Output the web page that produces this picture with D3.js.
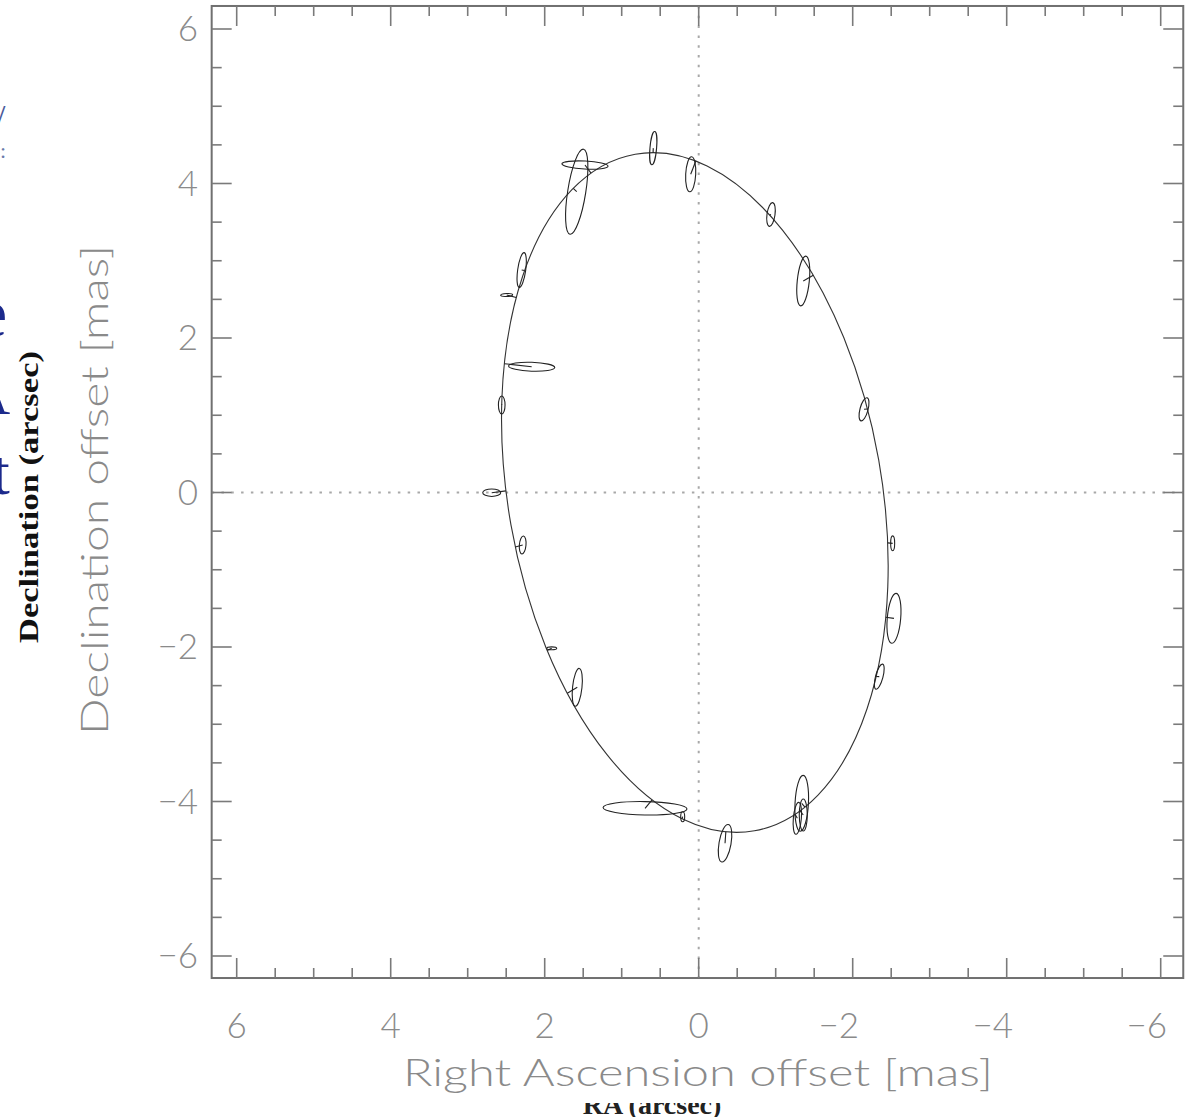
<!DOCTYPE html>
<html><head><meta charset="utf-8">
<script src="https://cdn.jsdelivr.net/npm/d3@7"></script>
<style>
html,body{margin:0;padding:0;background:#fff;}
svg{display:block;}
</style>
</head><body>
<svg id="chart" width="1198" height="1117"></svg>
<script>
// ---------------- data ----------------
const xTicks = [6, 4, 2, 0, -2, -4, -6];
const yTicks = [6, 4, 2, 0, -2, -4, -6];
const xTickLabels = ["6", "4", "2", "0", "\u22122", "\u22124", "\u22126"];
const yTickLabels = ["6", "4", "2", "0", "\u22122", "\u22124", "\u22126"];
const minorStep = 0.5;
const xLimits = [6.325, -6.293];
const yLimits = [6.298, -6.285];

// fitted apparent orbit (mas): centre, semi-axes, position angle of major axis (deg)
const orbitCenter = [0.05, 0.0];
const orbitAxes = [4.447, 2.425];
const orbitAngle = 80;

// observations: RA offset, Dec offset (mas), error ellipse semi-axes (mas), tilt (deg)
const obsRA  = [0.590, 0.104, 1.584, 1.477, -0.939, -1.358, 2.299, 2.494, 2.169, 2.558, 2.688, 2.286,
                1.909, 1.577, -2.147, -2.519, -2.536, -2.345, 0.697, 0.208, -0.342, -1.338, -1.281, -1.358];
const obsDec = [4.458, 4.119, 3.894, 4.239, 3.599, 2.738, 2.880, 2.557, 1.628, 1.133, -0.003, -0.680,
                -2.017, -2.522, 1.077, -0.658, -1.629, -2.384, -4.088, -4.197, -4.541, -4.023, -4.218, -4.175];
const errRA  = [0.043, 0.065, 0.117, 0.300, 0.052, 0.078, 0.052, 0.078, 0.300, 0.043, 0.117, 0.043,
                0.065, 0.061, 0.052, 0.026, 0.087, 0.048, 0.545, 0.026, 0.078, 0.087, 0.052, 0.052];
const errDec = [0.216, 0.227, 0.557, 0.052, 0.155, 0.324, 0.227, 0.019, 0.058, 0.117, 0.048, 0.117,
                0.019, 0.246, 0.155, 0.097, 0.324, 0.168, 0.087, 0.065, 0.246, 0.362, 0.207, 0.207];
const errTilt = [5, 3, 9, 3, 8, 6, 8, -3, 2, 0, 0, 5,
                 0, 6, 15, 0, 5, 15, 1, 0, 10, 3, 5, 0];

const xTitle = "Right Ascension offset [mas]";
const yTitle = "Declination offset [mas]";

// ---------------- drawing ----------------
const svg = d3.select("#chart");
const x = d3.scaleLinear().domain([6, -6]).range([236.7, 1160.7]);
const y = d3.scaleLinear().domain([6, -6]).range([29, 956]);
const kx = Math.abs(x(1) - x(0)), ky = Math.abs(y(1) - y(0));

const L = x(xLimits[0]), R = x(xLimits[1]), T = y(yLimits[0]), B = y(yLimits[1]);

// background slide fragments (behind the plot, cut at the left edge)
const bg = svg.append("g").attr("font-family", "Liberation Serif").attr("fill", "#1c2a8c");
bg.append("text").attr("x", -23).attr("y", 336).attr("font-size", 68).text("e");
bg.append("text").attr("x", -36).attr("y", 414).attr("font-size", 64).text("A");
bg.append("text").attr("x", -8).attr("y", 494).attr("font-size", 64).text("t");
bg.append("text").attr("x", -4).attr("y", 128).attr("font-size", 34).attr("fill", "#4a5a9a").text("/");
bg.append("text").attr("x", 0).attr("y", 158).attr("font-size", 22).attr("fill", "#6a7aaa").text(":");

// cropped "RA (arcsec)" label under the plot
svg.append("clipPath").attr("id", "raclip").append("rect")
  .attr("x", 0).attr("y", 1103).attr("width", 1198).attr("height", 30);
svg.append("text").attr("clip-path", "url(#raclip)")
  .attr("x", 652).attr("y", 1114).attr("text-anchor", "middle")
  .attr("font-family", "Liberation Serif").attr("font-weight", "bold")
  .attr("font-size", 28).attr("fill", "#222").text("RA (arcsec)");

// zero dotted lines
svg.append("line").attr("x1", x(0)).attr("x2", x(0)).attr("y1", T).attr("y2", B)
  .attr("stroke", "#a8a8a8").attr("stroke-width", 2).attr("stroke-dasharray", "2.5,7.3");
svg.append("line").attr("x1", L).attr("x2", R).attr("y1", y(0)).attr("y2", y(0))
  .attr("stroke", "#a8a8a8").attr("stroke-width", 2).attr("stroke-dasharray", "2.5,7.3");

// frame
svg.append("rect").attr("x", L).attr("y", T).attr("width", R - L).attr("height", B - T)
  .attr("fill", "none").attr("stroke", "#707070").attr("stroke-width", 2);

// ticks
const tickG = svg.append("g").attr("stroke", "#7a7a7a").attr("stroke-width", 1.6);
const minorX = d3.range(-6, 6.001, minorStep).filter(v => !xTicks.includes(v));
const minorY = d3.range(-6, 6.001, minorStep).filter(v => !yTicks.includes(v));
function xTick(v, len) {
  tickG.append("line").attr("x1", x(v)).attr("x2", x(v)).attr("y1", B).attr("y2", B - len);
  tickG.append("line").attr("x1", x(v)).attr("x2", x(v)).attr("y1", T).attr("y2", T + len);
}
function yTick(v, len) {
  tickG.append("line").attr("y1", y(v)).attr("y2", y(v)).attr("x1", L).attr("x2", L + len);
  tickG.append("line").attr("y1", y(v)).attr("y2", y(v)).attr("x1", R).attr("x2", R - len);
}
xTicks.forEach(v => xTick(v, 20));
minorX.forEach(v => xTick(v, 10));
yTicks.forEach(v => yTick(v, 20));
minorY.forEach(v => yTick(v, 10));

// tick labels
const lab = svg.append("g").attr("font-family", "Lato, 'DejaVu Sans', sans-serif")
  .attr("font-weight", 300).attr("fill", "#8a8a8a");
xTicks.forEach((v, i) => {
  const isNeg = v < 0;
  lab.append("text").attr("x", x(v) - (isNeg ? 14 : 0)).attr("y", 1038)
    .attr("text-anchor", "middle").attr("font-size", 35).text(xTickLabels[i]);
});
yTicks.forEach((v, i) => {
  lab.append("text").attr("x", 198).attr("y", y(v) + 12)
    .attr("text-anchor", "end").attr("font-size", 35).text(yTickLabels[i]);
});
lab.append("text").attr("x", 698).attr("y", 1086).attr("text-anchor", "middle")
  .attr("font-size", 38).attr("textLength", 590).attr("lengthAdjust", "spacingAndGlyphs").text(xTitle);
lab.append("text").attr("transform", "translate(108,490) rotate(-90)").attr("text-anchor", "middle")
  .attr("font-size", 38).attr("textLength", 490).attr("lengthAdjust", "spacingAndGlyphs").text(yTitle);

// orbit
const oc = [x(orbitCenter[0]), y(orbitCenter[1])];
const A = orbitAxes[0] * ky, Bm = orbitAxes[1] * kx;
svg.append("ellipse").attr("cx", oc[0]).attr("cy", oc[1]).attr("rx", A).attr("ry", Bm)
  .attr("transform", `rotate(${orbitAngle},${oc[0]},${oc[1]})`)
  .attr("fill", "none").attr("stroke", "#333").attr("stroke-width", 1.1);

// orbit sampling in screen space for residual connectors
const phi = orbitAngle * Math.PI / 180;
const orbitPts = d3.range(0, 2 * Math.PI, Math.PI / 720).map(t => [
  oc[0] + A * Math.cos(t) * Math.cos(phi) - Bm * Math.sin(t) * Math.sin(phi),
  oc[1] + A * Math.cos(t) * Math.sin(phi) + Bm * Math.sin(t) * Math.cos(phi)
]);

const obs = obsRA.map((ra, i) => ({ra, dec: obsDec[i], ex: errRA[i], ey: errDec[i], tilt: errTilt[i]}));
const og = svg.append("g").attr("fill", "none").attr("stroke", "#222").attr("stroke-width", 1.1);
obs.forEach(d => {
  const cx = x(d.ra), cy = y(d.dec);
  let best = orbitPts[0], bd = Infinity;
  orbitPts.forEach(p => { const dd = (p[0]-cx)**2 + (p[1]-cy)**2; if (dd < bd) { bd = dd; best = p; } });
  og.append("line").attr("x1", cx).attr("y1", cy).attr("x2", best[0]).attr("y2", best[1]);
  og.append("ellipse").attr("cx", cx).attr("cy", cy)
    .attr("rx", d.ex * kx).attr("ry", d.ey * ky)
    .attr("transform", `rotate(${d.tilt},${cx},${cy})`);
});

// overlaid slide label
svg.append("text").attr("transform", "translate(38,497) rotate(-90)").attr("text-anchor", "middle")
  .attr("font-family", "Liberation Serif").attr("font-weight", "bold").attr("font-size", 27)
  .attr("fill", "#111").attr("textLength", 292).attr("lengthAdjust", "spacingAndGlyphs")
  .text("Declination (arcsec)");
</script>
</body></html>
